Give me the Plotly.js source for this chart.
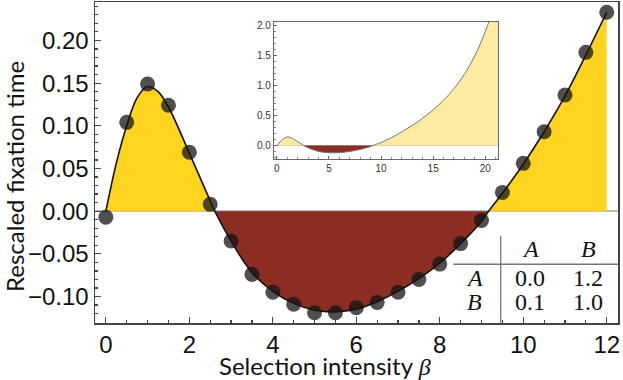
<!DOCTYPE html>
<html>
<head>
<meta charset="utf-8">
<script src="https://cdn.plot.ly/plotly-3.0.1.min.js"></script>
<style>
  body { margin: 0; background: #fff; }
  #chart { width: 623px; height: 380px; }
</style>
</head>
<body>
<div id="chart"></div>
<script>
// simulated points (selection intensity vs rescaled fixation time)
const betaPts = [0, 0.5, 1, 1.5, 2, 2.5, 3, 3.5, 4, 4.5, 5, 5.5, 6, 6.5, 7, 7.5, 8, 8.5, 9, 9.5, 10, 10.5, 11, 11.5, 12];
const fixPts = [-0.007, 0.104, 0.149, 0.124, 0.069, 0.008, -0.035, -0.074, -0.095, -0.109, -0.119, -0.119, -0.113, -0.107, -0.095, -0.080, -0.062, -0.038, -0.011, 0.022, 0.056, 0.093, 0.136, 0.186, 0.233];

// theoretical curve
const curveX = [0, 0.25, 0.5, 0.75, 1, 1.25, 1.5, 2, 2.5, 2.61, 3, 3.5, 4, 4.5, 5, 5.5, 6, 6.5, 7, 7.5, 8, 8.5, 9, 9.17, 9.5, 10, 10.5, 11, 11.5, 12];
const curveY = [0, 0.056, 0.100, 0.133, 0.146, 0.140, 0.122, 0.068, 0.012, 0, -0.035, -0.072, -0.094, -0.108, -0.116, -0.118, -0.115, -0.106, -0.094, -0.079, -0.061, -0.038, -0.012, 0, 0.021, 0.055, 0.093, 0.135, 0.183, 0.233];

// inset: same curve over a wider range
const insetX = [0, 0.5, 1, 1.5, 2, 2.61, 3, 4, 5, 6, 7, 8, 9, 9.17, 10, 11, 12, 13, 14, 15, 16, 17, 18, 19, 20, 21, 21.5];
const insetY = [0, 0.1, 0.145, 0.122, 0.068, 0, -0.035, -0.094, -0.116, -0.115, -0.094, -0.061, -0.012, 0, 0.055, 0.135, 0.233, 0.34, 0.46, 0.60, 0.76, 0.95, 1.19, 1.50, 1.90, 2.40, 2.70];

// payoff table
const tableCols = ['A', 'B'];
const tableRows = ['A', 'B'];
const payoff = [[0.0, 1.2], [0.1, 1.0]];

const yellow = '#FFD420';
const darkRed = '#8B2D23';
const paleYellow = '#FEEBA2';

function positivePart(ys) { return ys.map(v => v >= 0 ? v : null); }
function negativePart(ys) { return ys.map(v => v <= 0 ? v : null); }

const traces = [
    {
        x: curveX, y: positivePart(curveY), type: 'scatter', mode: 'none',
        fill: 'tozeroy', fillcolor: yellow, line: {shape: 'spline'}, hoverinfo: 'skip'
    },
    {
        x: curveX, y: negativePart(curveY), type: 'scatter', mode: 'none',
        fill: 'tozeroy', fillcolor: darkRed, line: {shape: 'spline'}, hoverinfo: 'skip'
    },
    {
        x: curveX, y: curveY, type: 'scatter', mode: 'lines',
        line: {color: '#111', width: 1.6, shape: 'spline'}
    },
    {
        x: betaPts, y: fixPts, type: 'scatter', mode: 'markers',
        marker: {size: 15, color: 'rgba(20,20,20,0.75)', line: {width: 0}}
    },
    // inset
    {
        x: insetX, y: positivePart(insetY), xaxis: 'x2', yaxis: 'y2', type: 'scatter', mode: 'none',
        fill: 'tozeroy', fillcolor: paleYellow, line: {shape: 'spline'}, hoverinfo: 'skip'
    },
    {
        x: insetX, y: negativePart(insetY), xaxis: 'x2', yaxis: 'y2', type: 'scatter', mode: 'none',
        fill: 'tozeroy', fillcolor: darkRed, line: {shape: 'spline'}, hoverinfo: 'skip'
    },
    {
        x: insetX, y: insetY, xaxis: 'x2', yaxis: 'y2', type: 'scatter', mode: 'lines',
        line: {color: '#777', width: 1, shape: 'spline'}
    }
];

// table text as annotations
const colX = [0.832, 0.943];
const rowY = [0.140, 0.0654];
const tableFont = {family: 'Liberation Serif, serif', size: 24, color: '#111'};
const annotations = [];
function note(x, y, text, font, extra) {
    annotations.push(Object.assign({xref: 'paper', yref: 'paper', x: x, y: y, text: text,
        xanchor: 'center', yanchor: 'middle', showarrow: false, font: font}, extra || {}));
}
tableCols.forEach((c, j) => note(colX[j], 0.2305, '<i>' + c + '</i>', tableFont));
tableRows.forEach((r, i) => {
    note(0.725, rowY[i], '<i>' + r + '</i>', tableFont);
    payoff[i].forEach((v, j) => note(colX[j], rowY[i], v.toFixed(1), tableFont));
});

// axis titles
const titleFont = {family: 'Lato, sans-serif', size: 24, color: '#111'};
note(0.44, -0.133, 'Selection intensity <i style="font-family:Liberation Serif">β</i>', titleFont);
note(-0.153, 0.458, 'Rescaled fixation time', titleFont, {textangle: -90});

const layout = {
    width: 623,
    height: 380,
    margin: {l: 95, r: 5, t: 2, b: 57},
    paper_bgcolor: '#fff',
    plot_bgcolor: 'rgba(0,0,0,0)',
    showlegend: false,
    font: {family: 'Liberation Sans, Arial, sans-serif', size: 24, color: '#111'},
    xaxis: {
        range: [-0.26, 12.27],
        tickmode: 'array', tickvals: [0, 2, 4, 6, 8, 10, 12],
        ticks: 'inside', ticklen: 6, tickwidth: 1.2, tickcolor: '#444',
        minor: {dtick: 0.5, ticks: 'inside', ticklen: 3, tickcolor: '#444'},
        showline: true, linecolor: '#444', linewidth: 1.5, mirror: true,
        showgrid: false, zeroline: false,
        tickfont: {size: 24}
    },
    yaxis: {
        range: [-0.131, 0.245],
        tickvals: [-0.10, -0.05, 0, 0.05, 0.10, 0.15, 0.20],
        tickformat: '.2f',
        ticks: 'inside', ticklen: 6, tickwidth: 1.2, tickcolor: '#444',
        minor: {dtick: 0.01, ticks: 'inside', ticklen: 3, tickcolor: '#444'},
        showline: true, linecolor: '#444', linewidth: 1.5, mirror: true,
        showgrid: false, zeroline: true, zerolinecolor: '#bbb', zerolinewidth: 1.5,
        tickfont: {size: 24}
    },
    xaxis2: {
        domain: [0.342, 0.771], anchor: 'y2',
        range: [-0.29, 21.25],
        tickvals: [0, 5, 10, 15, 20],
        ticks: 'inside', ticklen: 3, tickcolor: '#666',
        minor: {dtick: 1, ticks: 'inside', ticklen: 2, tickcolor: '#888'},
        showline: true, linecolor: '#666', linewidth: 1, mirror: true,
        showgrid: false, zeroline: false,
        tickfont: {size: 10, color: '#333'}
    },
    yaxis2: {
        domain: [0.511, 0.939], anchor: 'x2',
        range: [-0.22, 2.07],
        tickvals: [0, 0.5, 1, 1.5, 2],
        tickformat: '.1f',
        ticks: 'inside', ticklen: 3, tickcolor: '#666',
        minor: {dtick: 0.1, ticks: 'inside', ticklen: 2, tickcolor: '#888'},
        showline: true, linecolor: '#666', linewidth: 1, mirror: true,
        showgrid: false, zeroline: true, zerolinecolor: '#999', zerolinewidth: 1,
        tickfont: {size: 10, color: '#333'}
    },
    shapes: [
        // table rules
        {type: 'line', xref: 'paper', yref: 'paper', x0: 0.7757, x1: 0.7757, y0: 0, y1: 0.271,
            line: {color: '#777', width: 1.3}},
        {type: 'line', xref: 'paper', yref: 'paper', x0: 0.685, x1: 1, y0: 0.183, y1: 0.183,
            line: {color: '#777', width: 1.3}}
    ],
    annotations: annotations
};

Plotly.newPlot('chart', traces, layout, {displayModeBar: false, staticPlot: true});
</script>
</body>
</html>
